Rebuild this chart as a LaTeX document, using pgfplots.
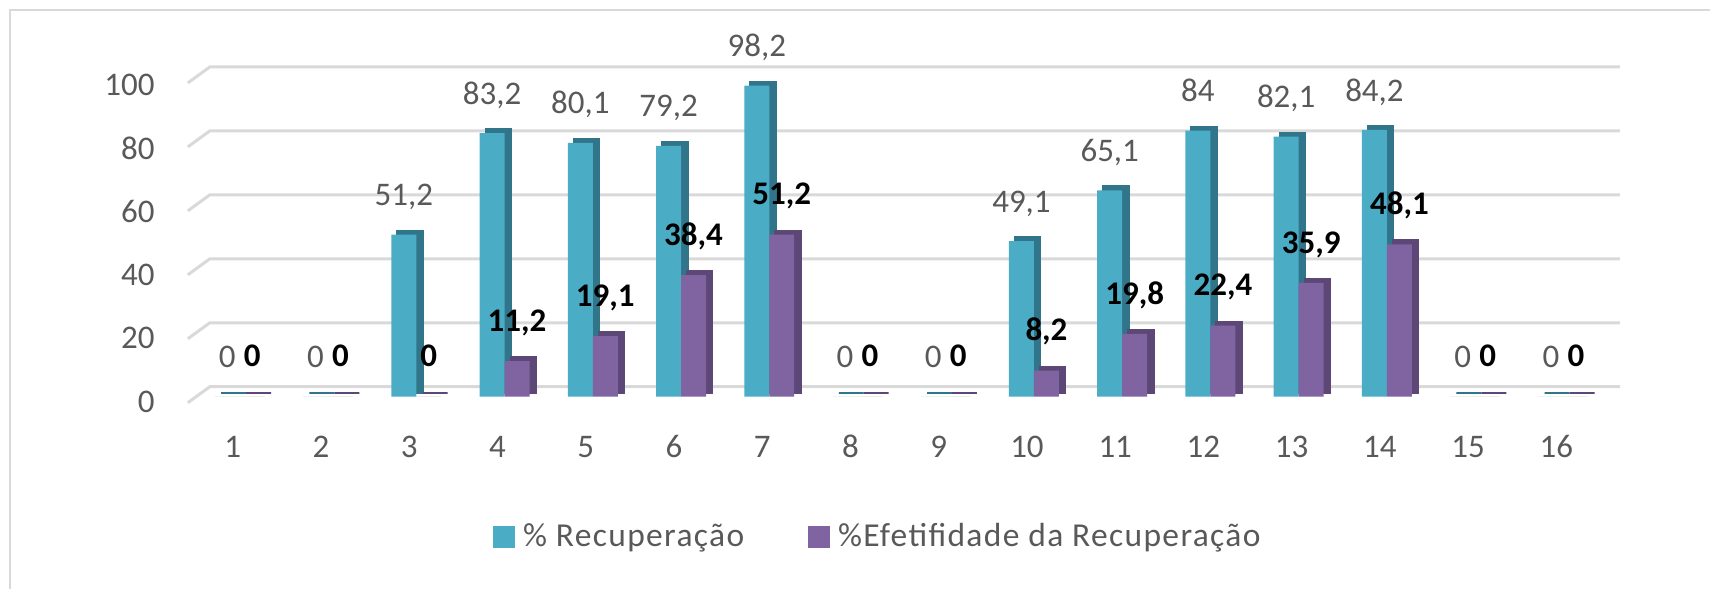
\documentclass[border=0pt]{standalone}
\usepackage{pgfplots}
\pgfplotsset{compat=1.18}
\usepackage{fontspec}
\setmainfont{Carlito}
\newfontfamily\legfont[LetterSpace=4]{Carlito}
\definecolor{tealc}{HTML}{4BACC6}
\definecolor{teald}{HTML}{31758A}
\definecolor{purc}{HTML}{8064A2}
\definecolor{purd}{HTML}{5C4776}
\definecolor{lblgray}{HTML}{595959}
\definecolor{gridc}{HTML}{D9D9D9}
\pgfplotstableread{
x rec
1 0
2 0
3 51.2
4 83.2
5 80.1
6 79.2
7 98.2
8 0
9 0
10 49.1
11 65.1
12 84
13 82.1
14 84.2
15 0
16 0
}\rectab
\pgfplotstableread{
x efe
1 0
2 0
3 0
4 11.2
5 19.1
6 38.4
7 51.2
8 0
9 0
10 8.2
11 19.8
12 22.4
13 35.9
14 48.1
15 0
16 0
}\efetab
\begin{document}
\begin{tikzpicture}[font=\fontsize{13.2}{15.8}\selectfont]
\begin{scope}[x=0.4pt,y=-0.4pt,yshift=235.6pt]
\path (0,0) rectangle (1711,589);
\foreach \v in {0,20,...,100}{
  \pgfmathsetmacro\yb{387-3.2*\v}
  \draw[gridc,line width=1.2pt] (188,{\yb+16}) -- (210,\yb) -- (1621,\yb);
}
\draw[gridc,line width=1pt] (10,589) -- (10,10) -- (1711,10);
\end{scope}
\begin{axis}[
  at={(75.54pt,76.8pt)}, anchor=south west, scale only axis,
  width=565.12pt, height=126.8pt,
  xmin=0.5, xmax=16.5, ymin=0, ymax=100,
  axis line style={draw=none}, major tick length=0pt,
  xtick={1,...,16}, ytick={0,20,...,100},
  ybar, bar width=10pt, clip=false,
  /pgf/number format/.cd, assume math mode=true, use comma, 1000 sep={},
  /pgfplots/.cd,
  xticklabel style={anchor=center, inner sep=0pt, yshift=-20pt, text=lblgray},
  yticklabel style={anchor=east, inner sep=0pt, xshift=-13.5pt, yshift=-2pt, text=lblgray},
  legend style={at={(0.4874,-0.443)}, anchor=center, draw=none, fill=none,
    inner sep=0pt, legend columns=2,
    nodes={inner sep=0pt, text=lblgray, font=\fontsize{13.4}{15.8}\legfont},
    /tikz/every odd column/.append style={column sep=3.2pt},
    /tikz/every even column/.append style={column sep=25.6pt}},
]
\addplot[fill=teald, draw=teald, line width=1pt, bar shift=0.3pt, yshift=1.5pt, forget plot] table[x=x,y=rec]{\rectab};
\addplot[fill=tealc, draw=none, bar shift=-2.2pt,
  nodes near coords,
  every node near coord/.append style={anchor=base, inner sep=0pt, yshift=11.6pt, text=lblgray},
  legend image code/.code={\fill[tealc] (0pt,-4.4pt) rectangle (8.8pt,4.4pt);}] table[x=x,y=rec]{\rectab};
\addlegendentry{\% Recuperação}
\addplot[fill=purd, draw=purd, line width=1pt, bar shift=10.3pt, yshift=1.5pt, forget plot] table[x=x,y=efe]{\efetab};
\addplot[fill=purc, draw=none, bar shift=7.8pt,
  nodes near coords,
  every node near coord/.append style={anchor=base, inner sep=0pt, yshift=12pt, text=black, font=\fontsize{13.2}{15.8}\selectfont\bfseries},
  legend image code/.code={\fill[purc] (0pt,-4.4pt) rectangle (8.8pt,4.4pt);}] table[x=x,y=efe]{\efetab};
\addlegendentry{\%Efetifidade da Recuperação}
\end{axis}
\end{tikzpicture}
\end{document}
